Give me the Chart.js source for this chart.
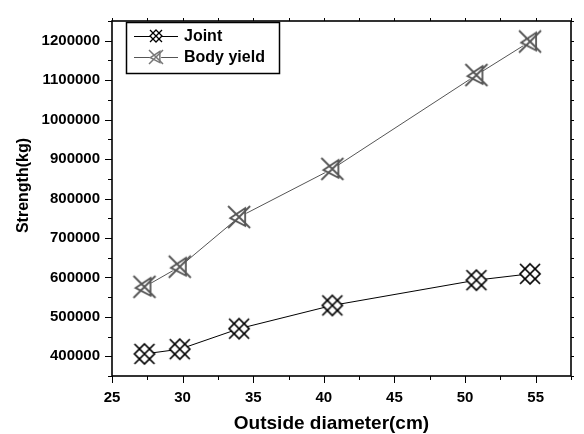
<!DOCTYPE html>
<html>
<head>
<meta charset="utf-8">
<script src="https://cdn.jsdelivr.net/npm/chart.js@4/dist/chart.umd.min.js"></script>
<style>
  html, body { margin: 0; padding: 0; background: #fff; }
  #wrap { width: 584px; height: 434px; }
</style>
</head>
<body>
<div id="wrap"><canvas id="chart"></canvas></div>
<script>
// data
const diameters = [27.3, 29.8, 34.0, 40.6, 50.8, 54.6];
const jointStrength = [406000, 418000, 470000, 529000, 593000, 609000];
const bodyYieldStrength = [576000, 627000, 753000, 875000, 1113000, 1198000];
const xTickLabels = [25, 30, 35, 40, 45, 50, 55];
const yTickLabels = [400000, 500000, 600000, 700000, 800000, 900000, 1000000, 1100000, 1200000];
const xTitle = 'Outside diameter(cm)';
const yTitle = 'Strength(kg)';

const FONT = '"Liberation Sans", Arial, sans-serif';
const GREY = '#555555';

// crossed diamond marker (Joint)
function jointMarker(r, color, lw) {
    const size = Math.ceil(r * 2 + 4);
    const c = document.createElement('canvas');
    c.width = c.height = size;
    const ctx = c.getContext('2d');
    const m = size / 2;
    ctx.beginPath();
    ctx.moveTo(m, m - r); ctx.lineTo(m + r, m); ctx.lineTo(m, m + r); ctx.lineTo(m - r, m); ctx.closePath();
    ctx.fillStyle = '#fff';
    ctx.fill();
    ctx.strokeStyle = color;
    ctx.lineWidth = lw;
    ctx.stroke();
    ctx.beginPath();
    ctx.moveTo(m - r, m - r); ctx.lineTo(m + r, m + r);
    ctx.moveTo(m + r, m - r); ctx.lineTo(m - r, m + r);
    ctx.stroke();
    return c;
}

// cross + left triangle marker (Body yield)
function bodyMarker(r, color, lw) {
    const size = Math.ceil(r * 2 + 4);
    const c = document.createElement('canvas');
    c.width = c.height = size;
    const ctx = c.getContext('2d');
    const m = size / 2;
    ctx.fillStyle = '#fff';
    ctx.beginPath(); ctx.arc(m, m, r * 0.75, 0, Math.PI * 2); ctx.fill();
    ctx.strokeStyle = color;
    ctx.lineWidth = lw;
    ctx.beginPath();
    ctx.moveTo(m - r * 0.8, m + r * 0.1);
    ctx.lineTo(m + r * 0.55, m - r * 0.8);
    ctx.lineTo(m + r * 0.55, m + r * 0.8);
    ctx.closePath();
    ctx.stroke();
    ctx.beginPath();
    ctx.moveTo(m - r, m - r); ctx.lineTo(m + r, m + r);
    ctx.moveTo(m + r, m - r); ctx.lineTo(m - r, m + r);
    ctx.stroke();
    return c;
}

const jointPt = jointMarker(10, '#000', 1.7);
const bodyPt = bodyMarker(11, GREY, 1.8);
const legendImgs = [jointMarker(6, '#000', 1.3), bodyMarker(7, '#777', 1.5)];

// frame, tick marks, axis titles and legend box like the original plot
const framePlugin = {
    id: 'frame',
    afterDraw(chart) {
        const { ctx, chartArea: a, scales } = chart;
        ctx.save();
        ctx.strokeStyle = '#000';
        ctx.lineWidth = 1;
        ctx.beginPath();
        for (let v = 350000; v <= 1250000; v += 50000) {
            const y = Math.round(scales.y.getPixelForValue(v)) + 0.5;
            const len = v % 100000 === 0 ? 7 : 4;
            ctx.moveTo(a.left, y); ctx.lineTo(a.left - len, y);
            ctx.moveTo(a.right, y); ctx.lineTo(a.right + 3, y);
        }
        for (let v = 25; v <= 57.5; v += 2.5) {
            const x = Math.round(scales.x.getPixelForValue(v)) + 0.5;
            const len = v % 5 === 0 ? 7 : 4;
            ctx.moveTo(x, a.bottom); ctx.lineTo(x, a.bottom + len);
            ctx.moveTo(x, a.top); ctx.lineTo(x, a.top - 3);
        }
        ctx.stroke();
        ctx.lineWidth = 1.6;
        ctx.strokeRect(a.left, a.top, a.right - a.left, a.bottom - a.top);

        // axis titles
        ctx.fillStyle = '#000';
        ctx.textAlign = 'center';
        ctx.textBaseline = 'middle';
        ctx.font = 'bold 19px ' + FONT;
        ctx.fillText(xTitle, (a.left + a.right) / 2 - 10, 424);
        ctx.translate(24, (a.top + a.bottom) / 2 - 13);
        ctx.rotate(-Math.PI / 2);
        ctx.font = 'bold 16px ' + FONT;
        ctx.fillText(yTitle, 0, 0);
        ctx.restore();

        // legend box
        ctx.save();
        ctx.strokeStyle = '#000';
        ctx.lineWidth = 1.5;
        ctx.strokeRect(126.5, 22.5, 153, 51);
        ctx.font = 'bold 16px ' + FONT;
        ctx.textBaseline = 'middle';
        chart.data.datasets.forEach((ds, i) => {
            const y = 36 + i * 21;
            ctx.strokeStyle = ds.borderColor;
            ctx.lineWidth = 1;
            ctx.beginPath();
            ctx.moveTo(134, y + 0.5); ctx.lineTo(178, y + 0.5);
            ctx.stroke();
            const img = legendImgs[i];
            ctx.drawImage(img, 156 - img.width / 2, y - img.height / 2);
            ctx.fillStyle = '#000';
            ctx.fillText(ds.label, 184, y + 1);
        });
        ctx.restore();
    }
};

new Chart(document.getElementById('chart'), {
    type: 'line',
    data: {
        datasets: [
            {
                label: 'Joint',
                data: diameters.map((d, i) => ({ x: d, y: jointStrength[i] })),
                borderColor: '#000',
                borderWidth: 1,
                pointStyle: jointPt,
                pointRadius: 10,
                fill: false
            },
            {
                label: 'Body yield',
                data: diameters.map((d, i) => ({ x: d, y: bodyYieldStrength[i] })),
                borderColor: GREY,
                borderWidth: 1,
                pointStyle: bodyPt,
                pointRadius: 11,
                fill: false
            }
        ]
    },
    options: {
        responsive: true,
        maintainAspectRatio: false,
        animation: false,
        layout: { padding: { top: 10, right: 2, left: 0, bottom: 0 } },
        plugins: { legend: { display: false }, tooltip: { enabled: false } },
        scales: {
            x: {
                type: 'linear',
                min: 25, max: 57.5,
                afterFit: s => { s.height = 58; },
                grid: { display: false, drawTicks: false },
                border: { display: false },
                ticks: {
                    stepSize: 2.5, padding: 13, autoSkip: false, maxRotation: 0, color: '#000',
                    font: { family: FONT, size: 15, weight: 'bold' },
                    callback: v => xTickLabels.includes(v) ? String(v) : ''
                }
            },
            y: {
                min: 350000, max: 1250000,
                afterFit: s => { s.width = 112; },
                grid: { display: false, drawTicks: false },
                border: { display: false },
                ticks: {
                    stepSize: 50000, padding: 12, autoSkip: false, color: '#000',
                    font: { family: FONT, size: 15, weight: 'bold' },
                    callback: v => yTickLabels.includes(v) ? String(v) : ''
                }
            }
        }
    },
    plugins: [framePlugin]
});
</script>
</body>
</html>
